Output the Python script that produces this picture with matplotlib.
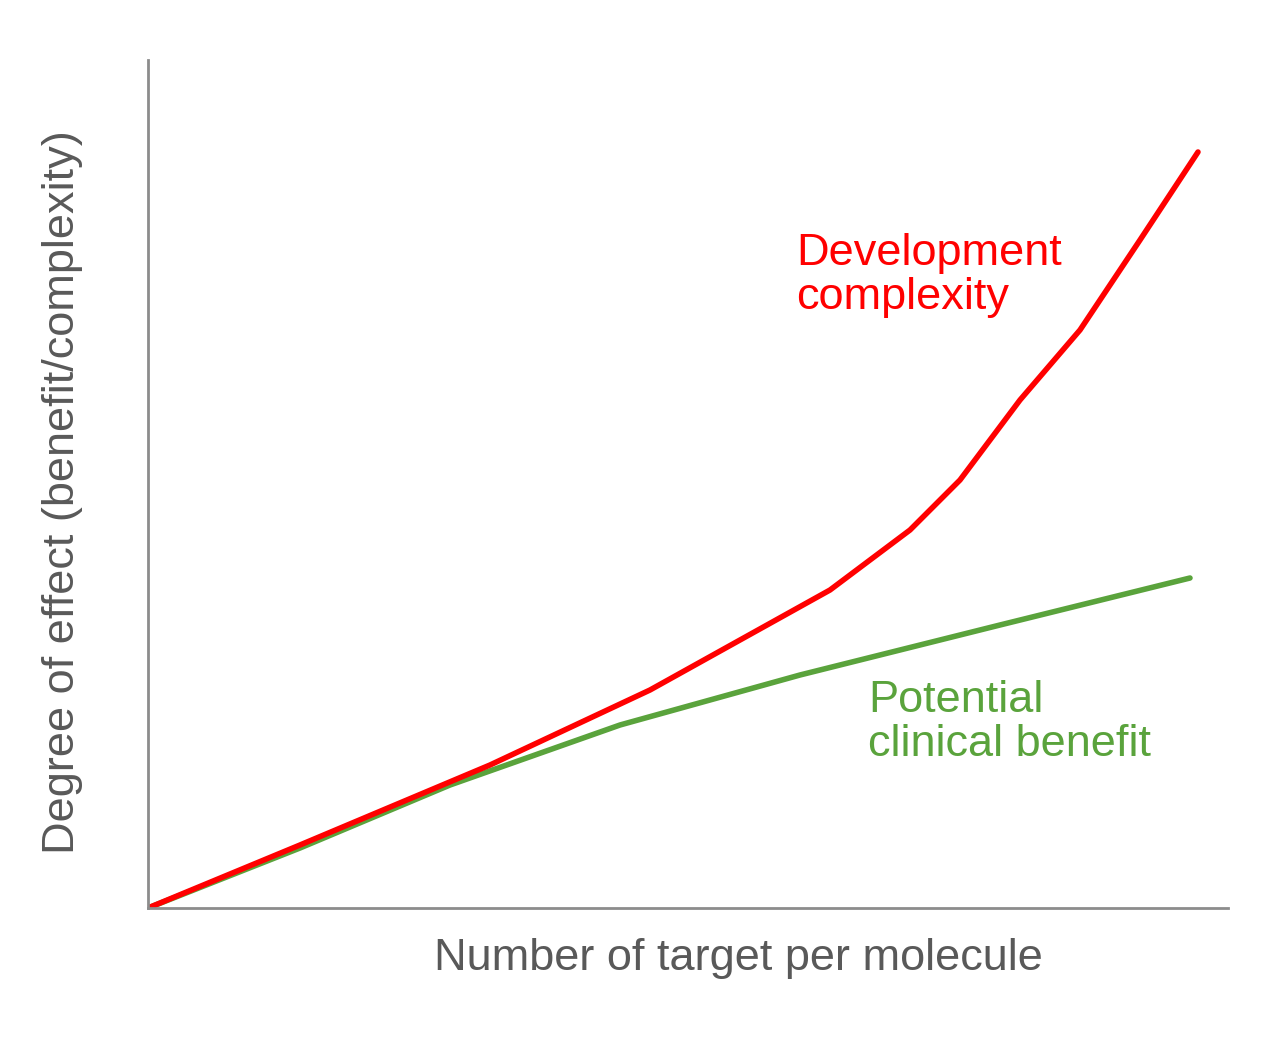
import matplotlib
matplotlib.use("Agg")
import matplotlib.pyplot as plt

plt.rcParams['font.family'] = ['Liberation Sans', 'DejaVu Sans']

red_x = [0, 152, 342, 502, 682, 762, 812, 872, 932, 992, 1050]
red_y = [0, 63, 143, 218, 318, 378, 428, 508, 578, 668, 756]
green_x = [0, 152, 302, 472, 652, 852, 1042]
green_y = [0, 60, 123, 183, 233, 283, 330]

fig = plt.figure(figsize=(12.87, 10.40), dpi=100)
ax = fig.add_axes([148/1287, 132/1040, 1080/1287, 848/1040])
ax.set_xlim(0, 1080)
ax.set_ylim(0, 848)
ax.plot(green_x, green_y, color='#5aa33c', lw=4, solid_capstyle='round', solid_joinstyle='round')
ax.plot(red_x, red_y, color='#ff0000', lw=4, solid_capstyle='round', solid_joinstyle='round')
for s in ['top', 'right']:
    ax.spines[s].set_visible(False)
for s in ['left', 'bottom']:
    ax.spines[s].set_color('#8c8c8c')
    ax.spines[s].set_linewidth(2)
ax.set_xticks([]); ax.set_yticks([])
ax.set_xlabel('Number of target per molecule', fontsize=32.5, color='#595959')
ax.xaxis.set_label_coords(0.547, -0.035)
ax.set_ylabel('Degree of effect (benefit/complexity)', fontsize=32.5, color='#595959')
ax.yaxis.set_label_coords(-0.06, 0.49)
ax.text(648, 675, 'Development\ncomplexity', fontsize=32.5, color='#ff0000', va='top', linespacing=1.1)
ax.text(720, 228, 'Potential\nclinical benefit', fontsize=32.5, color='#5aa33c', va='top', linespacing=1.1)
fig.savefig('out.png', dpi=100)
